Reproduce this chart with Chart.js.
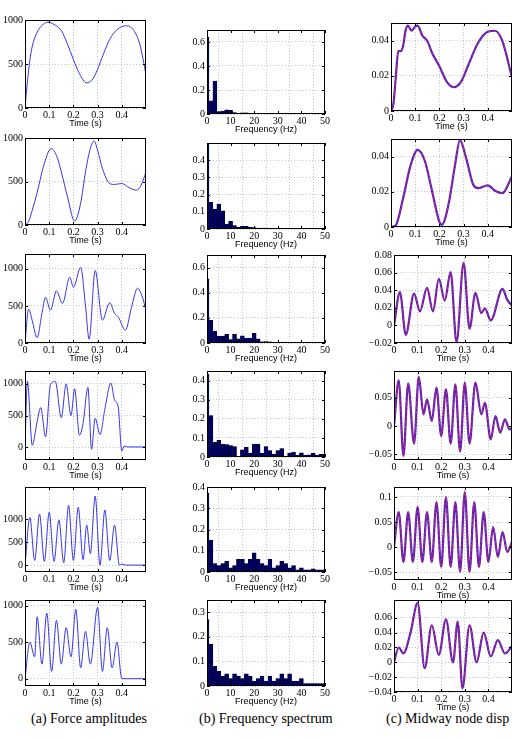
<!DOCTYPE html>
<html>
<head>
<meta charset="utf-8">
<script src="https://cdn.jsdelivr.net/npm/chart.js@4"></script>
<style>
  body { margin: 0; background: #fff; width: 522px; height: 739px; position: relative; overflow: hidden; }
  canvas { position: absolute; }
  .cap { position: absolute; top: 711px; font: 14px "Liberation Serif", serif; white-space: nowrap; color: #000; }
</style>
</head>
<body>
<div class="cap" style="left:31px">(a) Force amplitudes</div>
<div class="cap" style="left:199px">(b) Frequency spectrum</div>
<div class="cap" style="left:386px">(c) Midway node disp</div>
<script>
// ---- (a) force amplitudes: time (s) / force ----
const forceT1 = [0, 0.01, 0.02, 0.03, 0.05, 0.075, 0.095, 0.12, 0.15, 0.175, 0.2, 0.225, 0.255, 0.28, 0.3, 0.325, 0.35, 0.38, 0.42, 0.45, 0.475, 0.5];
const forceY1 = [0, 300, 540, 700, 860, 950, 975, 950, 880, 730, 550, 390, 285, 330, 440, 620, 780, 890, 935, 880, 720, 380];
const forceT2 = [0, 0.015, 0.03, 0.05, 0.075, 0.108, 0.13, 0.15, 0.175, 0.205, 0.23, 0.25, 0.27, 0.285, 0.3, 0.32, 0.35, 0.37, 0.4, 0.43, 0.46, 0.48, 0.5];
const forceY2 = [0, 40, 170, 370, 660, 878, 800, 611, 330, 46, 250, 611, 880, 966, 860, 649, 477, 466, 477, 430, 400, 458, 611];
const forceT3 = [0, 0.015, 0.03, 0.05, 0.07, 0.085, 0.105, 0.13, 0.155, 0.185, 0.2, 0.23, 0.25, 0.265, 0.29, 0.32, 0.35, 0.37, 0.385, 0.415, 0.44, 0.465, 0.485, 0.5];
const forceY3 = [0, 457, 300, 72, 400, 615, 443, 701, 534, 887, 751, 1018, 500, 50, 977, 308, 543, 398, 353, 172, 480, 738, 620, 443];
const forceT4 = [0, 0.01, 0.03, 0.05, 0.065, 0.085, 0.105, 0.125, 0.15, 0.17, 0.19, 0.205, 0.225, 0.24, 0.26, 0.275, 0.29, 0.31, 0.33, 0.355, 0.37, 0.385, 0.4, 0.41, 0.425, 0.5];
const forceY4 = [0, 1037, 32, 400, 624, 164, 984, 1037, 466, 995, 497, 921, 190, 376, 942, -32, 455, 201, 600, 1010, 746, 640, -58, 20, 5, 5];
const forceT5 = [0, 0.02, 0.04, 0.06, 0.08, 0.1, 0.12, 0.14, 0.16, 0.18, 0.2, 0.22, 0.24, 0.255, 0.27, 0.29, 0.31, 0.33, 0.35, 0.37, 0.39, 0.4, 0.42, 0.5];
const forceY5 = [0, 1040, 100, 1110, 80, 1150, 80, 980, 50, 1300, 100, 1260, 120, 870, 250, 1500, 0, 1200, 100, 870, 0, 20, 0, 0];
const forceT6 = [0, 0.02, 0.04, 0.05, 0.07, 0.09, 0.11, 0.13, 0.15, 0.17, 0.19, 0.21, 0.23, 0.25, 0.27, 0.3, 0.32, 0.34, 0.36, 0.38, 0.4, 0.42, 0.5];
const forceY6 = [0, 500, 300, 850, 200, 900, 100, 800, 200, 700, 300, 950, 150, 650, 200, 980, 100, 700, 150, 500, 0, 0, 0];

// ---- (b) frequency spectrum: bins (Hz) / amplitude ----
const freqBins = [0, 1.67, 3.33, 5, 6.67, 8.33, 10, 11.67, 13.33, 15, 16.67, 18.33, 20, 21.67, 23.33, 25, 26.67, 28.33, 30, 31.67, 33.33, 35, 36.67, 38.33, 40, 41.67, 43.33, 45, 46.67, 48.33, 50];
const spec1 = [0.64, 0.11, 0.275, 0.02, 0.025, 0.035, 0.03, 0.012, 0.006, 0.01, 0.01, 0.006, 0.005, 0.004, 0.005, 0.004, 0.003, 0.004, 0.003, 0.003, 0.003, 0.003, 0.002, 0.003, 0.002, 0.002, 0.003, 0.002, 0.002, 0.002, 0.002];
const spec2 = [0.5, 0.155, 0.115, 0.145, 0.105, 0.028, 0.045, 0.02, 0.01, 0.015, 0.015, 0.01, 0.008, 0.006, 0.005, 0.005, 0.004, 0.004, 0.003, 0.003, 0.003, 0.003, 0.002, 0.003, 0.002, 0.002, 0.002, 0.002, 0.002, 0.002, 0.002];
const spec3 = [0.51, 0.18, 0.095, 0.055, 0.055, 0.068, 0.027, 0.068, 0.033, 0.057, 0.04, 0.04, 0.076, 0.033, 0.01, 0.012, 0.01, 0.005, 0.005, 0.008, 0.005, 0.005, 0.006, 0.004, 0.005, 0.004, 0.004, 0.005, 0.003, 0.004, 0.003];
const spec4 = [0.433, 0.217, 0.077, 0.087, 0.068, 0.065, 0.06, 0.055, 0.004, 0.037, 0.05, 0.02, 0.068, 0.068, 0.02, 0.055, 0.033, 0.015, 0.033, 0.044, 0.004, 0.02, 0.026, 0.009, 0.022, 0.01, 0.012, 0.019, 0.01, 0.014, 0.014];
const spec5 = [0.37, 0.15, 0.04, 0.03, 0.04, 0.05, 0.02, 0.03, 0.06, 0.06, 0.04, 0.06, 0.09, 0.06, 0.04, 0.03, 0.06, 0.02, 0.03, 0.05, 0.04, 0.02, 0.03, 0.01, 0.02, 0.01, 0.01, 0.015, 0.01, 0.01, 0.01];
const spec6 = [0.27, 0.17, 0.08, 0.06, 0.04, 0.05, 0.03, 0.05, 0.04, 0.03, 0.05, 0.04, 0.02, 0.03, 0.04, 0.02, 0.04, 0.02, 0.03, 0.05, 0.03, 0.05, 0.02, 0.02, 0.03, 0.01, 0.01, 0.01, 0.01, 0.01, 0.01];

// ---- (c) midway node displacement: time (s) / displacement ----
const dispT1 = [0, 0.01, 0.02, 0.03, 0.04, 0.05, 0.06, 0.07, 0.085, 0.1, 0.11, 0.13, 0.15, 0.17, 0.2, 0.23, 0.26, 0.29, 0.32, 0.36, 0.4, 0.43, 0.46, 0.5];
const dispY1 = [0, 0.004, 0.0196, 0.034, 0.034, 0.037, 0.0456, 0.0485, 0.0456, 0.048, 0.0485, 0.0427, 0.0398, 0.033, 0.0254, 0.0167, 0.0135, 0.0167, 0.0263, 0.0388, 0.045, 0.0456, 0.0398, 0.019];
const dispT2 = [0, 0.02, 0.05, 0.08, 0.11, 0.14, 0.17, 0.2, 0.21, 0.24, 0.265, 0.285, 0.31, 0.34, 0.36, 0.4, 0.43, 0.46, 0.5];
const dispY2 = [0, 0.001, 0.0163, 0.0346, 0.0438, 0.0375, 0.0202, 0.0029, 0.0013, 0.0144, 0.0356, 0.0494, 0.0394, 0.024, 0.0221, 0.0237, 0.0206, 0.0192, 0.0288];
const dispT3 = [0, 0.025, 0.05, 0.085, 0.11, 0.14, 0.165, 0.19, 0.215, 0.24, 0.265, 0.295, 0.32, 0.345, 0.37, 0.385, 0.41, 0.46, 0.48, 0.5];
const dispY3 = [0, 0.0377, -0.0107, 0.0362, 0.016, 0.0427, 0.016, 0.053, 0.0282, 0.0606, -0.0194, 0.0712, -0.0038, 0.037, 0.0141, 0.0194, 0.0057, 0.0415, 0.029, 0.0225];
const dispT4 = [0, 0.02, 0.04, 0.06, 0.085, 0.105, 0.125, 0.14, 0.16, 0.18, 0.2, 0.22, 0.24, 0.26, 0.28, 0.3, 0.32, 0.345, 0.37, 0.385, 0.41, 0.43, 0.45, 0.47, 0.49, 0.5];
const dispY4 = [0, 0.0806, -0.053, 0.075, -0.031, 0.0865, 0.0206, 0.047, 0.0088, 0.0676, -0.0176, 0.0647, -0.031, 0.0735, -0.0453, 0.0765, -0.031, 0.0765, 0.0206, 0.041, -0.0235, 0.0176, -0.0118, 0.0118, -0.006, -0.003];
const dispT5 = [0, 0.02, 0.04, 0.06, 0.08, 0.1, 0.12, 0.14, 0.16, 0.18, 0.2, 0.22, 0.24, 0.26, 0.28, 0.3, 0.32, 0.34, 0.36, 0.38, 0.4, 0.42, 0.44, 0.46, 0.48, 0.5];
const dispY5 = [0, 0.07, -0.03, 0.07, -0.03, 0.08, -0.03, 0.07, -0.03, 0.09, -0.04, 0.1, -0.04, 0.09, -0.05, 0.11, -0.05, 0.09, -0.04, 0.07, -0.03, 0.04, -0.02, 0.03, -0.01, 0.01];
const dispT6 = [0, 0.02, 0.04, 0.07, 0.1, 0.13, 0.16, 0.19, 0.22, 0.25, 0.27, 0.29, 0.32, 0.35, 0.38, 0.41, 0.44, 0.47, 0.5];
const dispY6 = [0, 0.02, 0.012, 0.04, 0.08, -0.008, 0.05, 0.01, 0.058, 0, 0.055, -0.035, 0.05, 0, 0.04, 0.008, 0.03, 0.012, 0.022];

// ---- tick values ----
const timeTicks = [0, 0.1, 0.2, 0.3, 0.4];
const freqTicks = [0, 10, 20, 30, 40, 50];
const forceTicks = [0, 500, 1000];
const specTicks7 = [0, 0.2, 0.4, 0.6];
const specTicks4 = [0, 0.1, 0.2, 0.3, 0.4];
const specTicks3 = [0, 0.1, 0.2, 0.3];
const dispTicks05 = [0, 0.02, 0.04];
const dispTicks08 = [-0.02, 0, 0.02, 0.04, 0.06, 0.08];
const dispTicks10 = [-0.05, 0, 0.05];
const dispTicks12 = [-0.05, 0, 0.05, 0.1];
const dispTicks06 = [-0.04, -0.02, 0, 0.02, 0.04, 0.06];

// panel layout: plot box [left, top, right, bottom] in page pixels
const panels = [
  { kind: 'force', box: [25, 20, 146, 108], x: forceT1, y: forceY1, yr: [0, 1000], yt: forceTicks },
  { kind: 'force', box: [25, 138, 146, 225], x: forceT2, y: forceY2, yr: [0, 1000], yt: forceTicks },
  { kind: 'force', box: [25, 254, 146, 343], x: forceT3, y: forceY3, yr: [0, 1200], yt: forceTicks },
  { kind: 'force', box: [25, 371, 146, 460], x: forceT4, y: forceY4, yr: [-200, 1200], yt: forceTicks },
  { kind: 'force', box: [25, 487, 146, 572], x: forceT5, y: forceY5, yr: [-150, 1700], yt: forceTicks },
  { kind: 'force', box: [25, 600, 146, 686], x: forceT6, y: forceY6, yr: [-100, 1080], yt: forceTicks },
  { kind: 'spec', box: [207, 30, 325, 114], x: freqBins, y: spec1, yr: [0, 0.7], yt: specTicks7 },
  { kind: 'spec', box: [207, 143, 325, 229], x: freqBins, y: spec2, yr: [0, 0.5], yt: specTicks4 },
  { kind: 'spec', box: [207, 255, 325, 343], x: freqBins, y: spec3, yr: [0, 0.7], yt: specTicks7 },
  { kind: 'spec', box: [207, 371, 325, 457], x: freqBins, y: spec4, yr: [0, 0.45], yt: specTicks4 },
  { kind: 'spec', box: [207, 487, 325, 572], x: freqBins, y: spec5, yr: [0, 0.4], yt: specTicks4 },
  { kind: 'spec', box: [207, 600, 325, 686], x: freqBins, y: spec6, yr: [0, 0.35], yt: specTicks3 },
  { kind: 'disp', box: [391, 23, 512, 111], x: dispT1, y: dispY1, yr: [0, 0.05], yt: dispTicks05 },
  { kind: 'disp', box: [391, 139, 512, 227], x: dispT2, y: dispY2, yr: [0, 0.05], yt: dispTicks05 },
  { kind: 'disp', box: [394, 255, 512, 343], x: dispT3, y: dispY3, yr: [-0.02, 0.08], yt: dispTicks08 },
  { kind: 'disp', box: [394, 371, 512, 460], x: dispT4, y: dispY4, yr: [-0.06, 0.097], yt: dispTicks10 },
  { kind: 'disp', box: [394, 487, 512, 580], x: dispT5, y: dispY5, yr: [-0.066, 0.12], yt: dispTicks12 },
  { kind: 'disp', box: [394, 600, 512, 692], x: dispT6, y: dispY6, yr: [-0.04, 0.084], yt: dispTicks06 }
];

const tickFont = { family: '"Liberation Serif", serif', size: 10 };
const titleFont = { family: '"Liberation Sans", Arial, sans-serif', size: 9 };
const fmt = v => (v < 0 ? '\u2212' + Math.abs(v) : String(v));

// black frame with inward tick marks, matlab style
const framePlugin = {
  id: 'frame',
  afterDraw(chart) {
    const a = chart.chartArea, ctx = chart.ctx;
    const xs = chart.scales.x, ys = chart.scales.y;
    ctx.save();
    ctx.strokeStyle = '#000';
    ctx.lineWidth = 1;
    ctx.strokeRect(Math.round(a.left) + 0.5, Math.round(a.top) + 0.5, Math.round(a.width) - 1, Math.round(a.height) - 1);
    ctx.beginPath();
    xs.ticks.forEach(t => {
      const px = Math.round(xs.getPixelForValue(t.value)) + 0.5;
      ctx.moveTo(px, a.bottom); ctx.lineTo(px, a.bottom - 3);
      ctx.moveTo(px, a.top); ctx.lineTo(px, a.top + 3);
    });
    ys.ticks.forEach(t => {
      const py = Math.round(ys.getPixelForValue(t.value)) + 0.5;
      ctx.moveTo(a.left, py); ctx.lineTo(a.left + 3, py);
      ctx.moveTo(a.right, py); ctx.lineTo(a.right - 3, py);
    });
    ctx.stroke();
    ctx.restore();
  }
};

function makePanel(p) {
  const [l, t, r, b] = p.box;
  const W = 40, PT = 8, PR = 12, H = 21;
  const cv = document.createElement('canvas');
  cv.width = W + (r - l) + PR;
  cv.height = PT + (b - t) + H;
  cv.style.left = (l - W) + 'px';
  cv.style.top = (t - PT) + 'px';
  document.body.appendChild(cv);

  const pts = p.x.map((xv, i) => ({ x: xv, y: p.y[i] }));
  let datasets;
  if (p.kind === 'force') {
    datasets = [{ data: pts, borderColor: '#3535e8', borderWidth: 1, pointRadius: 0, cubicInterpolationMode: 'monotone' }];
  } else if (p.kind === 'spec') {
    datasets = [{ type: 'bar', data: pts, backgroundColor: '#000060', borderColor: '#000020', borderWidth: 0.5,
      barPercentage: 1, categoryPercentage: 1, clip: 0 }];
  } else {
    datasets = [
      { data: pts, borderColor: '#e0245a', borderWidth: 1, borderDash: [3, 2], pointRadius: 0, cubicInterpolationMode: 'monotone', order: 0 },
      { data: pts, borderColor: '#4a22c8', borderWidth: 2.2, pointRadius: 0, cubicInterpolationMode: 'monotone', order: 1 }
    ];
  }

  const xTicks = p.kind === 'spec' ? freqTicks : timeTicks;
  new Chart(cv, {
    type: p.kind === 'spec' ? 'bar' : 'line',
    data: { datasets },
    plugins: [framePlugin],
    options: {
      responsive: false,
      animation: false,
      layout: { padding: { left: 0, top: PT, right: PR, bottom: 0 } },
      plugins: { legend: { display: false }, tooltip: { enabled: false } },
      scales: {
        x: {
          type: 'linear', min: 0, max: p.kind === 'spec' ? 50 : 0.5, offset: false,
          afterBuildTicks: s => { s.ticks = xTicks.map(v => ({ value: v })); },
          afterFit: s => { s.height = H; s.paddingLeft = 0; s.paddingRight = 0; },
          ticks: { padding: 1, font: tickFont, color: '#000', callback: fmt, maxRotation: 0, autoSkip: false },
          grid: { color: '#c4c4c4', lineWidth: 1, drawTicks: false },
          border: { display: false, dash: [1, 2] },
          title: { display: true, text: p.kind === 'spec' ? 'Frequency (Hz)' : 'Time (s)', font: titleFont, color: '#000', padding: 0 }
        },
        y: {
          type: 'linear', min: p.yr[0], max: p.yr[1],
          afterBuildTicks: s => { s.ticks = p.yt.map(v => ({ value: v })); },
          afterFit: s => { s.width = W; s.paddingTop = 0; s.paddingBottom = 0; },
          ticks: { padding: 2, font: tickFont, color: '#000', callback: fmt, autoSkip: false },
          grid: { color: '#c4c4c4', lineWidth: 1, drawTicks: false },
          border: { display: false, dash: [1, 2] }
        }
      }
    }
  });
}

panels.forEach(makePanel);
</script>
</body>
</html>
